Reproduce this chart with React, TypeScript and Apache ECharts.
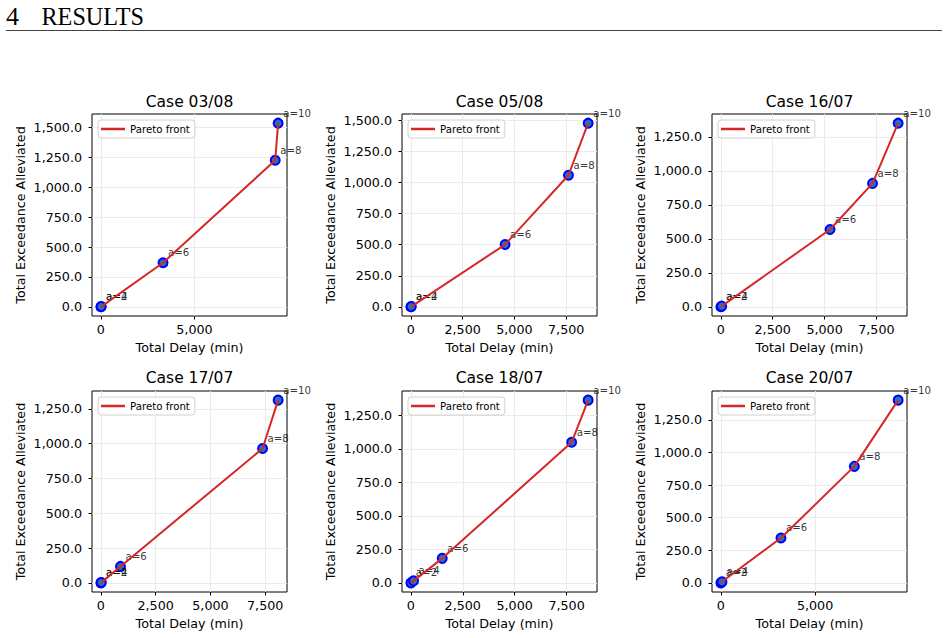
import React, { useEffect, useRef } from 'react';
import * as echarts from 'echarts';

// Budget levels a shown on every Pareto front
const aLevels = [2, 4, 6, 8, 10];

const caseTitles = ['Case 03/08', 'Case 05/08', 'Case 16/07', 'Case 17/07', 'Case 18/07', 'Case 20/07'];

// Total delay (min) and total exceedance alleviated, one pair per case
const delay0308 = [0, 20, 3320, 9315, 9470];
const exceed0308 = [0, 2, 368, 1225, 1535];
const delay0508 = [0, 20, 4550, 7610, 8560];
const exceed0508 = [0, 2, 501, 1059, 1478];
const delay1607 = [0, 40, 5265, 7315, 8550];
const exceed1607 = [0, 5, 569, 908, 1351];
const delay1707 = [0, 20, 895, 7380, 8090];
const exceed1707 = [0, 3, 118, 965, 1312];
const delay1807 = [0, 130, 1512, 7746, 8540];
const exceed1807 = [0, 15, 183, 1050, 1365];
const delay2007 = [0, 60, 3190, 7085, 9410];
const exceed2007 = [0, 8, 344, 893, 1401];

// Tick values
const delayTicksWide = [0, 5000];
const delayTicksFine = [0, 2500, 5000, 7500];
const exceedTicksTall = [0, 250, 500, 750, 1000, 1250, 1500];
const exceedTicksShort = [0, 250, 500, 750, 1000, 1250];

const panels = [
  { title: caseTitles[0], delay: delay0308, exceed: exceed0308, xTicks: delayTicksWide, yTicks: exceedTicksTall },
  { title: caseTitles[1], delay: delay0508, exceed: exceed0508, xTicks: delayTicksFine, yTicks: exceedTicksTall },
  { title: caseTitles[2], delay: delay1607, exceed: exceed1607, xTicks: delayTicksFine, yTicks: exceedTicksShort },
  { title: caseTitles[3], delay: delay1707, exceed: exceed1707, xTicks: delayTicksFine, yTicks: exceedTicksShort },
  { title: caseTitles[4], delay: delay1807, exceed: exceed1807, xTicks: delayTicksFine, yTicks: exceedTicksShort },
  { title: caseTitles[5], delay: delay2007, exceed: exceed2007, xTicks: delayTicksWide, yTicks: exceedTicksShort },
];

const FONT = 'DejaVu Sans';
const colLefts = [92, 402, 712];
const rowTops = [114, 391];
const rowHeights = [202, 201];
const rowTitleY = [101.5, 377.5];
const plotWidth = 195;

function fmtNumber(v: number, dec: number) {
  const s = Math.abs(v).toFixed(dec);
  const [whole, frac] = s.split('.');
  const grouped = whole.replace(/\B(?=(\d{3})+(?!\d))/g, ',');
  return (v < 0 ? '-' : '') + grouped + (frac ? '.' + frac : '');
}

// 5% margins on both sides of the data range
function paddedRange(values: number[]) {
  const lo = Math.min(...values);
  const hi = Math.max(...values);
  const m = (hi - lo) * 0.05;
  return [lo - m, hi + m];
}

function buildOption() {
  const grid: any[] = [];
  const xAxis: any[] = [];
  const yAxis: any[] = [];
  const series: any[] = [];
  const legend: any[] = [];
  const graphic: any[] = [
    {
      type: 'text',
      x: 6,
      y: 16,
      style: { text: '4', font: '26px "Liberation Serif"', fill: '#000', textVerticalAlign: 'middle' },
    },
    {
      type: 'text',
      x: 41.5,
      y: 16,
      scaleX: 0.93,
      style: { text: 'RESULTS', font: '26px "Liberation Serif"', fill: '#000', textVerticalAlign: 'middle' },
    },
    {
      type: 'line',
      shape: { x1: 6, y1: 30.5, x2: 942, y2: 30.5 },
      style: { stroke: '#444', lineWidth: 1 },
    },
  ];

  panels.forEach((p, i) => {
    const col = i % 3;
    const row = Math.floor(i / 3);
    const left = colLefts[col];
    const top = rowTops[row];
    const height = rowHeights[row];
    const [xMin, xMax] = paddedRange(p.delay);
    const [yMin, yMax] = paddedRange(p.exceed);
    const points = p.delay.map((d, k) => [d, p.exceed[k]]);

    grid.push({
      left,
      top,
      width: plotWidth,
      height,
      show: true,
      borderColor: '#000',
      borderWidth: 1,
      backgroundColor: 'transparent',
    });

    xAxis.push({
      type: 'value',
      gridIndex: i,
      min: xMin,
      max: xMax,
      name: 'Total Delay (min)',
      nameLocation: 'middle',
      nameGap: 25,
      nameTextStyle: { fontSize: 12.7, color: '#000', fontFamily: FONT },
      axisLine: { show: false, onZero: false },
      axisTick: { show: true, inside: false, length: 3.5, lineStyle: { color: '#000', width: 1 }, customValues: p.xTicks },
      axisLabel: {
        customValues: p.xTicks,
        formatter: (v: number) => fmtNumber(v, 0),
        margin: 7,
        fontSize: 12.7,
        color: '#000',
        fontFamily: FONT,
      },
      splitLine: { show: false },
    });

    yAxis.push({
      type: 'value',
      gridIndex: i,
      min: yMin,
      max: yMax,
      name: 'Total Exceedance Alleviated',
      nameLocation: 'middle',
      nameGap: 65,
      nameTextStyle: { fontSize: 12.7, color: '#000', fontFamily: FONT },
      axisLine: { show: false, onZero: false },
      axisTick: { show: true, inside: false, length: 3.5, lineStyle: { color: '#000', width: 1 }, customValues: p.yTicks },
      axisLabel: {
        customValues: p.yTicks,
        formatter: (v: number) => fmtNumber(v, 1),
        margin: 10,
        fontSize: 12.7,
        color: '#000',
        fontFamily: FONT,
      },
      splitLine: { show: false },
    });

    series.push({
      type: 'scatter',
      name: 'solutions',
      xAxisIndex: i,
      yAxisIndex: i,
      data: points,
      symbolSize: 9,
      z: 2,
      itemStyle: { color: '#1f77b4', borderColor: '#0000ff', borderWidth: 2, opacity: 1 },
      emphasis: { disabled: true },
      label: {
        show: true,
        position: 'inside',
        align: 'left',
        verticalAlign: 'bottom',
        offset: [5, -5],
        formatter: (prm: any) => 'a=' + aLevels[prm.dataIndex],
        fontSize: 10.2,
        fontFamily: FONT,
        color: 'rgba(0,0,0,0.8)',
      },
      markLine: {
        silent: true,
        z: 1,
        symbol: ['none', 'none'],
        label: { show: false },
        emphasis: { disabled: true },
        lineStyle: { color: '#ebebeb', width: 1, type: 'solid' },
        data: [
          ...p.xTicks.map((v) => ({ xAxis: v })),
          ...p.yTicks.map((v) => ({ yAxis: v })),
        ],
      },
    });

    series.push({
      type: 'line',
      name: 'Pareto front',
      xAxisIndex: i,
      yAxisIndex: i,
      data: points,
      symbol: 'none',
      z: 3,
      color: '#d62728',
      lineStyle: { color: '#d62728', width: 2 },
      emphasis: { disabled: true },
    });

    legend.push({
      data: [{ name: 'Pareto front', icon: 'rect' }],
      left: left + 6,
      top: top + 6,
      orient: 'vertical',
      selectedMode: false,
      itemWidth: 24,
      itemHeight: 2.5,
      padding: [3, 5, 3, 3],
      borderColor: '#d0d0d0',
      borderWidth: 1,
      borderRadius: 3,
      backgroundColor: 'rgba(255,255,255,0.85)',
      itemStyle: { color: '#d62728', borderWidth: 0 },
      textStyle: { fontSize: 10.2, fontFamily: FONT, color: '#000', lineHeight: 12 },
    });

    graphic.push({
      type: 'text',
      x: left + plotWidth / 2,
      y: rowTitleY[row],
      style: {
        text: p.title,
        font: '15.5px "DejaVu Sans"',
        fill: '#000',
        textAlign: 'center',
        textVerticalAlign: 'middle',
      },
    });
  });

  return {
    animation: false,
    backgroundColor: '#ffffff',
    textStyle: { fontFamily: FONT },
    grid,
    xAxis,
    yAxis,
    series,
    legend,
    graphic,
  };
}

export default function App() {
  const ref = useRef<HTMLDivElement>(null);

  useEffect(() => {
    if (!ref.current) return;
    const chart = echarts.init(ref.current, undefined, { renderer: 'svg' });
    chart.setOption(buildOption() as any);
    return () => chart.dispose();
  }, []);

  return (
    <div
      ref={ref}
      style={{ position: 'absolute', left: 0, top: 0, width: 948, height: 638, background: '#fff' }}
    />
  );
}
